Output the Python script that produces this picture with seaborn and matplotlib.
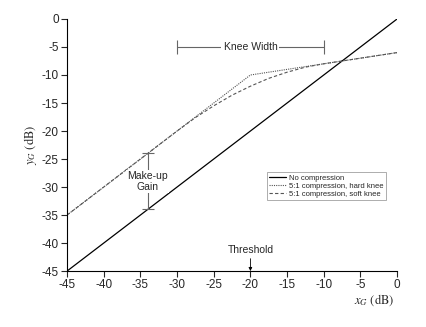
import matplotlib
matplotlib.use("Agg")
import matplotlib.pyplot as plt
import seaborn as sns
import pandas as pd

sns.set_theme(style="ticks")
plt.rcParams['font.family'] = ['Liberation Sans', 'DejaVu Sans']
plt.rcParams['mathtext.fontset'] = 'stix'
plt.rcParams['axes.unicode_minus'] = False

# Data
x_none = [-45, 0]
y_none = [-45, 0]
x_hard = [-45, -20, 0]
y_hard = [-35, -10, -6]
x_soft = [-45, -30, -27.5, -25, -22.5, -20, -17.5, -15, -12.5, -10, 0]
y_soft = [-35, -20, -17.6, -15.5, -13.6, -12, -10.6, -9.5, -8.6, -8, -6]
xticks = [-45, -40, -35, -30, -25, -20, -15, -10, -5, 0]
yticks = [0, -5, -10, -15, -20, -25, -30, -35, -40, -45]

df = pd.concat([
    pd.DataFrame({"x": x_none, "y": y_none, "s": "No compression"}),
    pd.DataFrame({"x": x_hard, "y": y_hard, "s": "5:1 compression, hard knee"}),
    pd.DataFrame({"x": x_soft, "y": y_soft, "s": "5:1 compression, soft knee"}),
])

fig = plt.figure(figsize=(4.27, 3.27), dpi=100)
ax = fig.add_axes([0.157, 0.171, 0.773, 0.771])

styles = {"No compression": ("#000000", "-", 0.9),
          "5:1 compression, hard knee": ("#555555", (0, (1, 1)), 0.8),
          "5:1 compression, soft knee": ("#555555", (0, (3, 2)), 0.8)}
for name, (c, ls, lw) in styles.items():
    sub = df[df.s == name]
    sns.lineplot(data=sub, x="x", y="y", ax=ax, color=c, linestyle=ls,
                 linewidth=lw, label=name, sort=False)

ax.set_xlim(-45, 0)
ax.set_ylim(-45, 0)
ax.set_xticks(xticks)
ax.set_yticks(yticks)
ax.tick_params(labelsize=8.5, length=4, width=0.8, direction='out', pad=2)
for s in ["top", "right"]:
    ax.spines[s].set_visible(False)
ax.spines["left"].set_linewidth(0.8)
ax.spines["bottom"].set_linewidth(0.8)
ax.spines["left"].set_color("black")
ax.spines["bottom"].set_color("black")

ax.set_ylabel(r"$y_G$ (dB)", fontsize=9, family='STIXGeneral', labelpad=2)
ax.set_xlabel(r"$x_G$ (dB)", fontsize=9, family='STIXGeneral', labelpad=2)
ax.xaxis.set_label_coords(0.93, -0.085)

gray = "#666666"
# Make-up gain
ax.errorbar([-34], [-29], yerr=[[5], [5]], fmt='none', ecolor=gray,
            elinewidth=0.8, capsize=4, capthick=0.8)
ax.text(-34, -29, "Make-up\nGain", ha='center', va='center', fontsize=7.5,
        linespacing=1.1,
        bbox=dict(facecolor='white', edgecolor='none', pad=1))
# Knee width
ax.errorbar([-20], [-5], xerr=[[10], [10]], fmt='none', ecolor=gray,
            elinewidth=0.8, capsize=5, capthick=0.8)
ax.text(-20, -5, "Knee Width", ha='center', va='center', fontsize=7.5,
        bbox=dict(facecolor='white', edgecolor='none', pad=1.5))
# Threshold
ax.annotate("Threshold", xy=(-20, -45), xytext=(-20, -42.2),
            ha='center', va='bottom', fontsize=7.5,
            arrowprops=dict(arrowstyle='-|>', color='black', lw=0.6,
                            mutation_scale=5, shrinkA=0, shrinkB=0))

leg = ax.legend(loc='upper left', bbox_to_anchor=(0.605, 0.393), fontsize=5.5,
                frameon=True, fancybox=False, edgecolor='#888888',
                handlelength=2.2, borderpad=0.3, labelspacing=0.1,
                handletextpad=0.4, borderaxespad=0)
leg.get_frame().set_linewidth(0.6)

fig.savefig("out.png", dpi=100)
